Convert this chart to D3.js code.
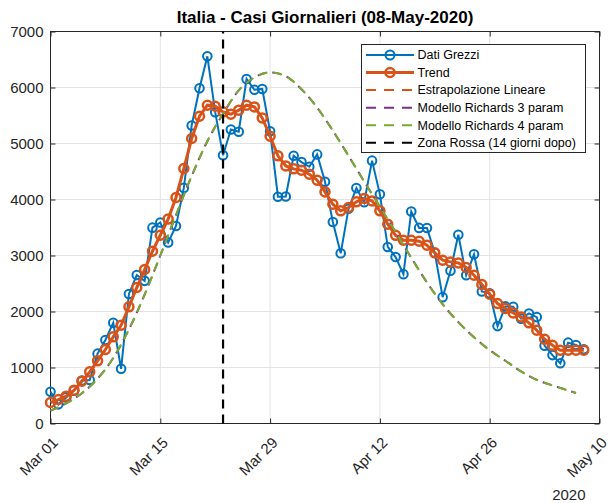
<!DOCTYPE html>
<head>
<meta charset="utf-8">
<style>
body { margin: 0; background: #fff; }
text { font-family: "Liberation Sans", Arial, Helvetica, sans-serif; }
.axis .domain { display: none; }
.axis line { stroke: #262626; }
.axis text { fill: #262626; font-size: 15px; }
</style>
</head>
<body>
<svg width="609" height="503"></svg>
<script src="https://cdn.jsdelivr.net/npm/d3@7"></script>
<script>
// daily new cases, Mar 01 .. May 08 2020
var rawCases = [566, 342, 466, 587, 769, 778, 1247, 1492, 1797, 977,
  2313, 2651, 2547, 3497, 3590, 3233, 3526, 4207, 5322, 5986,
  6557, 5560, 4789, 5249, 5210, 6153, 5959, 5974, 5217, 4050,
  4053, 4782, 4668, 4585, 4805, 4316, 3599, 3039, 3836, 4204,
  3951, 4694, 4092, 3153, 2972, 2667, 3786, 3493, 3491, 3047,
  2256, 2729, 3370, 2646, 3021, 2357, 2324, 1739, 2091, 2086,
  1872, 1965, 1900, 1389, 1221, 1075, 1444, 1401, 1327];

var trend = [375, 428, 488, 595, 756, 922, 1119, 1321, 1547, 1755,
  2083, 2428, 2749, 3076, 3362, 3650, 4036, 4553, 5089, 5487,
  5684, 5666, 5565, 5523, 5595, 5684, 5654, 5457, 5130, 4780,
  4600, 4547, 4523, 4452, 4345, 4136, 3916, 3797, 3857, 3958,
  4018, 3975, 3797, 3559, 3360, 3273, 3273, 3255, 3184, 3047,
  2916, 2886, 2868, 2786, 2648, 2482, 2309, 2143, 2053, 1975,
  1904, 1797, 1666, 1505, 1398, 1309, 1309, 1309, 1309];

var richardsDays = [0, 2, 4, 6, 8, 10, 12, 14, 16, 18, 20, 22, 24, 26, 28, 30, 32, 34,
  36, 38, 40, 42, 44, 46, 48, 50, 52, 54, 56, 58, 60, 62, 64, 66, 67];
var richards4 = [230, 360, 540, 800, 1170, 1680, 2300, 3000, 3720, 4420, 5040, 5530,
  5950, 6180, 6270, 6200, 5970, 5640, 5230, 4780, 4320, 3870, 3420, 2960, 2520,
  2130, 1810, 1540, 1310, 1120, 930, 780, 680, 590, 545];
var richards3 = richards4.slice();

var zonaRossaDay = 22;

var xTickLabels = ["Mar 01", "Mar 15", "Mar 29", "Apr 12", "Apr 26", "May 10"];
var yTicks = [0, 1000, 2000, 3000, 4000, 5000, 6000, 7000];

var legendLabels = ["Dati Grezzi", "Trend", "Estrapolazione Lineare",
  "Modello Richards 3 param", "Modello Richards 4 param", "Zona Rossa (14 giorni dopo)"];

var start = new Date(Date.UTC(2020, 2, 1));
function day(i) { return d3.utcDay.offset(start, i); }

var svg = d3.select("svg"),
    pLeft = 50.5, pRight = 599.5, pTop = 31.5, pBottom = 423.5;

var x = d3.scaleUtc().domain([day(0), day(70)]).range([pLeft, pRight]);
var y = d3.scaleLinear().domain([0, 7000]).range([pBottom, pTop]);

var xTicks = d3.range(0, 71, 14).map(day);

// grid
var grid = svg.append("g").attr("stroke", "#e3e3e3").attr("stroke-width", 1);
grid.selectAll(".gx").data(xTicks).enter().append("line")
    .attr("x1", function(d) { return x(d); }).attr("x2", function(d) { return x(d); })
    .attr("y1", pTop).attr("y2", pBottom);
grid.selectAll(".gy").data(yTicks).enter().append("line")
    .attr("x1", pLeft).attr("x2", pRight)
    .attr("y1", function(d) { return y(d); }).attr("y2", function(d) { return y(d); });

// axes, ticks pointing inward
var xAxis = svg.append("g")
    .attr("class", "axis")
    .attr("transform", "translate(0," + pBottom + ")")
    .call(d3.axisBottom(x).tickValues(xTicks).tickSize(-5)
      .tickFormat(function(d, i) { return xTickLabels[i]; }));
xAxis.selectAll("text")
    .attr("x", 0).attr("y", 0).attr("dy", null)
    .attr("transform", "translate(8,20) rotate(-45)")
    .style("text-anchor", "end");

svg.append("g").attr("class", "axis")
    .attr("transform", "translate(0," + pTop + ")")
    .call(d3.axisTop(x).tickValues(xTicks).tickSize(-5).tickFormat(""));

svg.append("g").attr("class", "axis")
    .attr("transform", "translate(" + pLeft + ",0)")
    .call(d3.axisLeft(y).tickValues(yTicks).tickSize(-5).tickPadding(7).tickFormat(d3.format("d")));

svg.append("g").attr("class", "axis")
    .attr("transform", "translate(" + pRight + ",0)")
    .call(d3.axisRight(y).tickValues(yTicks).tickSize(-5).tickFormat(""));

svg.append("rect")
    .attr("x", pLeft).attr("y", pTop)
    .attr("width", pRight - pLeft).attr("height", pBottom - pTop)
    .attr("fill", "none").attr("stroke", "#262626");

svg.append("text")
    .attr("x", 585.5).attr("y", 500)
    .attr("text-anchor", "end")
    .attr("fill", "#262626").attr("font-size", 15)
    .text("2020");

// series
var line = d3.line()
    .x(function(d, i) { return x(day(i)); })
    .y(function(d) { return y(d); });

svg.append("path").datum(rawCases)
    .attr("fill", "none").attr("stroke", "#0072BD").attr("stroke-width", 2)
    .attr("d", line);
svg.append("g").selectAll("circle").data(rawCases).enter().append("circle")
    .attr("cx", function(d, i) { return x(day(i)); })
    .attr("cy", function(d) { return y(d); })
    .attr("r", 4.3)
    .attr("fill", "none").attr("stroke", "#0072BD").attr("stroke-width", 2);

svg.append("path").datum(trend)
    .attr("fill", "none").attr("stroke", "#D95319").attr("stroke-width", 3)
    .attr("d", line);
svg.append("g").selectAll("circle").data(trend).enter().append("circle")
    .attr("cx", function(d, i) { return x(day(i)); })
    .attr("cy", function(d) { return y(d); })
    .attr("r", 4.5)
    .attr("fill", "none").attr("stroke", "#D95319").attr("stroke-width", 2.5);

var modelLine = d3.line()
    .x(function(d, i) { return x(day(richardsDays[i])); })
    .y(function(d) { return y(d); })
    .curve(d3.curveMonotoneX);

svg.append("path").datum(richards3)
    .attr("fill", "none").attr("stroke", "#7E2F8E").attr("stroke-width", 2)
    .attr("stroke-dasharray", "9,6").attr("stroke-dashoffset", 1)
    .attr("d", modelLine);
svg.append("path").datum(richards4)
    .attr("fill", "none").attr("stroke", "#77AC30").attr("stroke-width", 2)
    .attr("stroke-dasharray", "9,6")
    .attr("d", modelLine);

svg.append("line")
    .attr("x1", x(day(zonaRossaDay))).attr("x2", x(day(zonaRossaDay)))
    .attr("y1", pBottom).attr("y2", pTop)
    .attr("stroke", "#000").attr("stroke-width", 2.2)
    .attr("stroke-dasharray", "9,6");

// title
svg.append("text")
    .attr("x", (pLeft + pRight) / 2).attr("y", 23)
    .attr("text-anchor", "middle")
    .attr("font-size", 17).attr("font-weight", "bold").attr("fill", "#000")
    .text("Italia - Casi Giornalieri (08-May-2020)");

// legend
var legendStyles = [
  {color: "#0072BD", dash: null, width: 2, marker: 2},
  {color: "#D95319", dash: null, width: 3, marker: 2.5},
  {color: "#D95319", dash: "10,8", width: 2, marker: 0},
  {color: "#7E2F8E", dash: "10,8", width: 2, marker: 0},
  {color: "#77AC30", dash: "10,8", width: 2, marker: 0},
  {color: "#000000", dash: "10,8", width: 2, marker: 0}
];

var legend = svg.append("g");
legend.append("rect")
    .attr("x", 361.5).attr("y", 44.5).attr("width", 224).attr("height", 108)
    .attr("fill", "#fff").attr("stroke", "#262626");

var rows = legend.selectAll("g.row").data(legendLabels).enter().append("g")
    .attr("transform", function(d, i) { return "translate(0," + (55 + i * 17.55) + ")"; });

rows.append("line")
    .attr("x1", 366).attr("x2", 414).attr("y1", 0).attr("y2", 0)
    .attr("stroke", function(d, i) { return legendStyles[i].color; })
    .attr("stroke-width", function(d, i) { return legendStyles[i].width; })
    .attr("stroke-dasharray", function(d, i) { return legendStyles[i].dash; });

rows.filter(function(d, i) { return legendStyles[i].marker > 0; })
  .append("circle")
    .attr("cx", 390).attr("cy", 0).attr("r", 4.5)
    .attr("fill", "none")
    .attr("stroke", function(d) { return legendStyles[legendLabels.indexOf(d)].color; })
    .attr("stroke-width", function(d) { return legendStyles[legendLabels.indexOf(d)].marker; });

rows.append("text")
    .attr("x", 417.5).attr("y", 0).attr("dy", "0.35em")
    .attr("font-size", 12.5).attr("fill", "#000")
    .text(function(d) { return d; });
</script>
</body>
